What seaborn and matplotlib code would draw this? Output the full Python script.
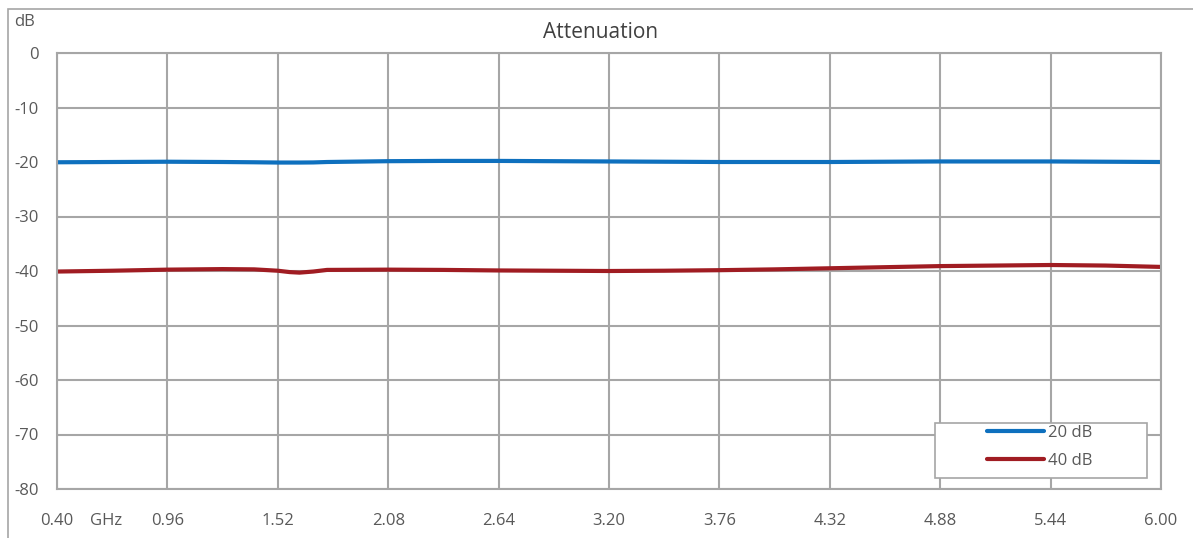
import matplotlib
matplotlib.use("Agg")
import matplotlib.pyplot as plt
import seaborn as sns
import pandas as pd
from matplotlib.patches import Rectangle

freq = [0.40, 0.68, 0.96, 1.24, 1.40, 1.52, 1.58, 1.63, 1.70, 1.77, 2.08, 2.36, 2.64, 2.92,
        3.20, 3.48, 3.76, 4.04, 4.32, 4.60, 4.88, 5.16, 5.44, 5.72, 6.00]
att_20 = [-20.05, -20.0, -19.95, -20.0, -20.05, -20.1, -20.1, -20.1, -20.08, -20.0, -19.85, -19.8, -19.8, -19.85,
          -19.9, -19.95, -20.0, -20.0, -20.0, -19.95, -19.9, -19.9, -19.9, -19.95, -20.0]
att_40 = [-40.1, -39.95, -39.75, -39.65, -39.7, -39.95, -40.2, -40.3, -40.1, -39.8, -39.75, -39.8, -39.9, -39.95,
          -40.0, -39.95, -39.85, -39.7, -39.5, -39.3, -39.1, -39.0, -38.9, -39.0, -39.25]
series_names = ["20 dB", "40 dB"]
xticks = [0.40, 0.96, 1.52, 2.08, 2.64, 3.20, 3.76, 4.32, 4.88, 5.44, 6.00]
yticks = [0, -10, -20, -30, -40, -50, -60, -70, -80]

df = pd.DataFrame({
    "freq": freq * 2,
    "att": att_20 + att_40,
    "series": [series_names[0]] * len(freq) + [series_names[1]] * len(freq),
})

sns.set_theme(style="white")
plt.rcParams['font.family'] = ['Open Sans', 'DejaVu Sans']
text_color = "#595959"
grid_color = "#A6A6A6"
fs = 12

fig = plt.figure(figsize=(11.93, 5.38), dpi=100)
ax = fig.add_axes([57 / 1193, 1 - 489 / 538, (1161 - 57) / 1193, (489 - 53) / 538])

sns.lineplot(data=df, x="freq", y="att", hue="series",
             palette={"20 dB": "#0E70BE", "40 dB": "#A01C22"},
             linewidth=3.0, ax=ax, legend=False)

ax.set_xlim(0.40, 6.00)
ax.set_ylim(-80, 0)
ax.set_xticks(xticks)
ax.set_xticklabels([f"{v:.2f}" for v in xticks])
ax.set_yticks(yticks)
ax.set_yticklabels([str(v) for v in yticks])
ax.grid(True, color=grid_color, linewidth=1.5)
ax.set_axisbelow(True)
for s in ax.spines.values():
    s.set_visible(True)
    s.set_color(grid_color)
    s.set_linewidth(1.5)
ax.tick_params(axis="both", length=0, labelsize=fs, colors=text_color)
ax.tick_params(axis="x", pad=17)
ax.tick_params(axis="y", pad=13)
ax.set_xlabel("")
ax.set_ylabel("")

fig.text(601 / 1193, 1 - 33 / 538, "Attenuation", ha="center", va="center",
         fontsize=15, color="#404040")
fig.text(14 / 1193, 1 - 22 / 538, "dB", ha="left", va="center", fontsize=fs, color=text_color)
fig.text(90 / 1193, 1 - 521 / 538, "GHz", ha="left", va="center", fontsize=fs, color=text_color)

# outer chart border
fig.patches.append(Rectangle((8 / 1193, -0.1), 1.2, 1 - 9 / 538 + 0.1,
                             transform=fig.transFigure, fill=False,
                             edgecolor="#A6A6A6", linewidth=1.2))

# legend frame
fig.patches.append(Rectangle((935 / 1193, 1 - 478 / 538), (1147 - 935) / 1193, (478 - 423) / 538,
                             transform=fig.transFigure, facecolor="white",
                             edgecolor="#A6A6A6", linewidth=1.2, zorder=5))
handles = [plt.Line2D([], [], color=c, linewidth=3.0) for c in ["#0E70BE", "#A01C22"]]
leg = fig.legend(handles, series_names, loc="upper left",
                 bbox_to_anchor=(987 / 1193, 1 - 425 / 538), bbox_transform=fig.transFigure,
                 frameon=False, fontsize=fs, handlelength=3.4, handletextpad=0.25,
                 labelspacing=0.7, borderpad=0, borderaxespad=0)
for t in leg.get_texts():
    t.set_color(text_color)
leg.set_zorder(6)

fig.savefig("out.png", dpi=100)
